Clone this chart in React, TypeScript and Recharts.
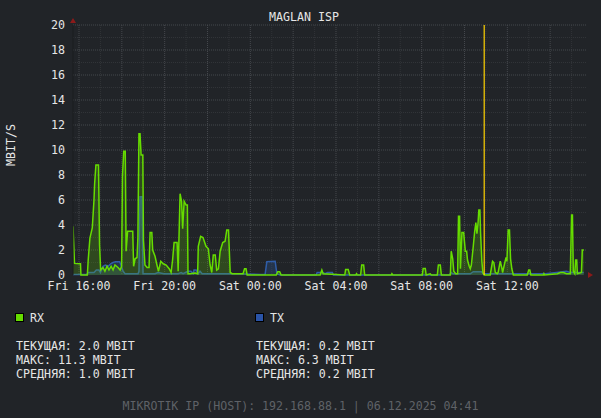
import React from 'react';
import { AreaChart, Area, XAxis, YAxis, ReferenceLine, ReferenceDot, CartesianGrid } from 'recharts';

// time in hours since Fri 00:00
const rxTimes = [15.72, 15.79, 16.07, 16.09, 16.39, 16.43, 16.51, 16.62, 16.70, 16.73, 16.79, 16.91, 16.96, 17.01, 17.12, 17.21, 17.31, 17.40, 17.50, 17.59, 17.68, 17.82, 17.92, 17.99, 18.03, 18.09, 18.16, 18.20, 18.27, 18.51, 18.55, 18.62, 18.71, 18.75, 18.80, 18.85, 18.90, 18.98, 19.01, 19.08, 19.18, 19.27, 19.32, 19.40, 19.44, 19.55, 19.64, 19.71, 19.82, 19.93, 20.07, 20.21, 20.30, 20.37, 20.44, 20.58, 20.63, 20.72, 20.79, 20.84, 20.91, 21.00, 21.06, 21.09, 21.19, 21.42, 21.54, 21.57, 21.68, 21.79, 21.93, 22.04, 22.12, 22.20, 22.27, 22.36, 22.43, 22.51, 22.59, 22.71, 22.82, 22.90, 22.98, 23.06, 23.15, 23.43, 23.66, 23.73, 23.80, 23.85, 25.21, 25.28, 25.37, 25.44, 27.26, 27.34, 27.40, 28.41, 28.45, 28.57, 28.64, 28.92, 28.96, 28.99, 29.15, 29.20, 29.29, 29.34, 30.58, 30.61, 30.65, 32.03, 32.07, 32.17, 32.21, 32.40, 32.45, 32.73, 32.78, 32.87, 32.92, 33.34, 33.38, 33.45, 33.50, 33.59, 33.68, 33.72, 33.77, 33.81, 33.88, 33.96, 34.04, 34.10, 34.14, 34.22, 34.27, 34.32, 34.35, 34.41, 34.47, 34.53, 34.58, 34.63, 34.67, 34.72, 34.75, 34.81, 34.86, 34.92, 35.20, 35.25, 35.31, 35.37, 35.44, 35.53, 35.57, 35.67, 35.75, 35.78, 35.87, 35.94, 35.98, 36.04, 36.10, 36.15, 36.21, 36.28, 36.93, 37.00, 37.05, 37.10, 37.69, 37.71, 37.74, 38.34, 38.48, 38.62, 38.76, 38.94, 39.00, 39.04, 39.08, 39.15, 39.19, 39.24, 39.27, 39.46, 39.50, 39.57];
const rxValues = [3.9, 0.93, 0.9, 0.0, 0.0, 1.2, 2.96, 3.76, 6.0, 7.3, 8.8, 8.8, 2.4, 0.4, 0.6, 0.3, 0.7, 0.4, 0.7, 0.4, 0.8, 0.6, 0.4, 0.7, 7.9, 9.9, 9.9, 1.9, 3.5, 3.5, 0.7, 1.3, 1.4, 3.0, 11.3, 11.3, 9.6, 9.6, 2.8, 0.8, 0.6, 0.6, 3.4, 3.4, 2.0, 1.5, 0.8, 0.3, 1.1, 0.9, 0.8, 0.5, 0.2, 1.2, 2.6, 2.6, 0.3, 6.5, 5.9, 3.7, 5.9, 5.6, 5.6, 0.1, 0.1, 0.15, 0.1, 2.3, 3.1, 3.0, 2.3, 2.1, 0.8, 0.2, 1.6, 1.6, 0.4, 0.5, 1.9, 2.6, 2.7, 3.6, 3.6, 0.2, 0.1, 0.1, 0.1, 0.5, 0.5, 0.0, 0.0, 0.27, 0.27, 0.0, 0.0, 0.4, 0.1, 0.0, 0.45, 0.45, 0.0, 0.0, 0.1, 0.0, 0.0, 0.8, 0.8, 0.0, 0.0, 0.1, 0.0, 0.0, 0.53, 0.53, 0.0, 0.1, 0.0, 0.0, 0.8, 0.8, 0.0, 0.0, 1.9, 1.3, 0.3, 0.1, 0.1, 4.7, 4.7, 0.5, 3.4, 3.4, 1.9, 1.9, 1.2, 0.7, 0.5, 0.8, 1.3, 2.3, 3.4, 4.2, 3.3, 4.1, 5.2, 5.2, 3.4, 1.1, 0.2, 0.0, 0.0, 0.5, 1.1, 1.0, 0.2, 0.1, 0.2, 1.1, 0.5, 0.2, 0.9, 1.4, 1.1, 3.6, 3.6, 1.3, 0.5, 0.0, 0.0, 0.4, 0.4, 0.0, 0.0, 0.1, 0.0, 0.1, 0.2, 0.2, 0.1, 0.1, 4.8, 4.8, 0.3, 0.1, 1.2, 1.2, 0.1, 0.2, 2.0, 2.0];

const txTimes = [15.72, 16.37, 16.42, 16.70, 16.81, 16.93, 17.00, 17.12, 17.23, 17.36, 17.48, 17.59, 17.71, 17.90, 17.96, 18.06, 18.15, 18.76, 18.80, 18.85, 18.94, 18.99, 19.55, 19.69, 19.97, 20.63, 20.77, 20.86, 21.09, 21.23, 21.33, 21.37, 21.47, 21.56, 21.65, 21.75, 23.06, 24.46, 24.69, 24.77, 25.16, 25.24, 25.39, 27.07, 27.12, 27.36, 27.50, 27.60, 27.83, 27.88, 33.29, 33.38, 33.46, 34.27, 34.41, 34.79, 34.88, 37.78, 38.29, 38.76, 38.94, 39.41, 39.57];
const txValues = [0.05, 0.05, 0.2, 0.2, 0.4, 0.4, 0.2, 0.7, 0.8, 0.7, 0.9, 1.0, 1.07, 1.07, 0.8, 0.3, 0.1, 0.1, 0.3, 6.26, 6.26, 0.1, 0.1, 0.2, 0.1, 0.1, 0.2, 0.1, 0.3, 0.3, 0.1, 0.4, 0.4, 0.1, 0.3, 0.1, 0.1, 0.05, 0.05, 1.07, 1.1, 0.1, 0.0, 0.0, 0.2, 0.2, 0.1, 0.2, 0.2, 0.0, 0.0, 0.2, 0.1, 0.1, 0.27, 0.27, 0.1, 0.1, 0.2, 0.3, 0.2, 0.2, 0.2];

const xTickHours = [16, 20, 24, 28, 32, 36];
const xTickLabels = ['Fri 16:00', 'Fri 20:00', 'Sat 00:00', 'Sat 04:00', 'Sat 08:00', 'Sat 12:00'];
const yTicks = [0, 2, 4, 6, 8, 10, 12, 14, 16, 18, 20];
const xDomain: [number, number] = [15.72, 39.72];
const markerTime = 34.92;

const rxStats = ['ТЕКУЩАЯ: 2.0 MBIT', 'МАКС: 11.3 MBIT', 'СРЕДНЯЯ: 1.0 MBIT'];
const txStats = ['ТЕКУЩАЯ: 0.2 MBIT', 'МАКС: 6.3 MBIT', 'СРЕДНЯЯ: 0.2 MBIT'];

const title = 'MAGLAN ISP';
const footer = 'MIKROTIK IP (HOST): 192.168.88.1 | 06.12.2025 04:41';

const RX_COLOR = '#66dd00';
const TX_COLOR = '#3163b5';
const BG = '#212428';
const FONT = '"DejaVu Sans Mono", monospace';
const FS = 11.6;

function buildTable() {
  const map = new Map<number, any>();
  rxTimes.forEach((t, i) => {
    const row = map.get(t) || { t, rx: null, tx: null };
    row.rx = rxValues[i];
    map.set(t, row);
  });
  txTimes.forEach((t, i) => {
    const row = map.get(t) || { t, rx: null, tx: null };
    row.tx = txValues[i];
    map.set(t, row);
  });
  return Array.from(map.values()).sort((a, b) => a.t - b.t);
}

const data = buildTable();

const majorY: number[] = [];
const minorY: number[] = [];
for (let v = 1; v <= 20; v++) (v % 2 === 0 ? majorY : minorY).push(v);
const majorX: number[] = [];
const minorX: number[] = [];
for (let h = 16; h <= 39; h++) (h % 2 === 0 ? majorX : minorX).push(h);

const UpArrow = (props: any) => {
  const { cx, cy } = props;
  return <polygon points={`${cx - 3},${cy - 2} ${cx + 3},${cy - 2} ${cx},${cy - 7}`} fill="#8b1a1a" />;
};
const RightArrow = (props: any) => {
  const { cx, cy } = props;
  return <polygon points={`${cx + 1},${cy - 3} ${cx + 1},${cy + 3} ${cx + 6},${cy}`} fill="#8b1a1a" />;
};

export default function App() {
  return (
    <div style={{ position: 'absolute', left: 0, top: 0, width: 601, height: 418, background: BG, overflow: 'hidden' }}>
      <AreaChart width={601} height={418} data={data} margin={{ top: 25, right: 14, bottom: 113, left: 0 }}>
        <CartesianGrid
          horizontalValues={minorY}
          verticalValues={minorX}
          stroke="#313438"
          strokeDasharray="1 1"
          syncWithTicks={false}
        />
        <CartesianGrid
          horizontalValues={majorY}
          verticalValues={majorX}
          stroke="#45484d"
          strokeDasharray="1 1"
          syncWithTicks={false}
        />
        <XAxis
          dataKey="t"
          type="number"
          domain={xDomain}
          allowDataOverflow
          ticks={xTickHours}
          tickFormatter={(v: number) => xTickLabels[xTickHours.indexOf(v)] ?? ''}
          tickLine={false}
          axisLine={false}
          tickSize={3}
          tickMargin={4}
          height={30}
          tick={{ fill: '#e6e6e6', fontSize: FS, fontFamily: FONT }}
          interval={0}
        />
        <YAxis
          type="number"
          domain={[0, 20]}
          ticks={yTicks}
          tickLine={false}
          axisLine={{ stroke: '#1a1c1f' }}
          tickSize={4}
          tickMargin={4}
          width={73}
          interval={0}
          tick={{ fill: '#e6e6e6', fontSize: FS, fontFamily: FONT }}
        />
        <Area
          type="linear"
          dataKey="tx"
          stroke={TX_COLOR}
          strokeOpacity={0.9}
          strokeWidth={1.5}
          fill={TX_COLOR}
          fillOpacity={0.25}
          connectNulls
          dot={false}
          activeDot={false}
          isAnimationActive={false}
        />
        <Area
          type="linear"
          dataKey="rx"
          stroke={RX_COLOR}
          strokeWidth={1.5}
          fill="#66cc00"
          fillOpacity={0.22}
          connectNulls
          dot={false}
          activeDot={false}
          isAnimationActive={false}
        />
        <ReferenceLine x={markerTime} stroke="#ffd200" strokeWidth={1.2} />
        <ReferenceDot x={xDomain[0]} y={20} r={3} shape={UpArrow} ifOverflow="visible" />
        <ReferenceDot x={xDomain[1]} y={0} r={3} shape={RightArrow} ifOverflow="visible" />
      </AreaChart>
      <svg width={601} height={418} style={{ position: 'absolute', left: 0, top: 0, pointerEvents: 'none' }}>
        <g fontFamily={FONT} fontSize={FS}>
          <text x={304} y={21} textAnchor="middle" fill="#e6e6e6">{title}</text>
          <text transform="translate(15,145) rotate(-90)" textAnchor="middle" fill="#e6e6e6">MBIT/S</text>
          <rect x={15.5} y={313.5} width={8} height={8} fill={RX_COLOR} stroke="#000" strokeWidth={1} />
          <text x={30} y={322} fill="#e6e6e6">RX</text>
          <rect x={255.5} y={313.5} width={8} height={8} fill="#2a54a8" stroke="#000" strokeWidth={1} />
          <text x={270} y={322} fill="#e6e6e6">TX</text>
          {rxStats.map((s, i) => (
            <text key={'r' + i} x={16} y={350 + i * 14} fill="#e6e6e6">{s}</text>
          ))}
          {txStats.map((s, i) => (
            <text key={'t' + i} x={256} y={350 + i * 14} fill="#e6e6e6">{s}</text>
          ))}
          <text x={300.5} y={410} textAnchor="middle" fill="#5f6267">{footer}</text>
        </g>
      </svg>
    </div>
  );
}
